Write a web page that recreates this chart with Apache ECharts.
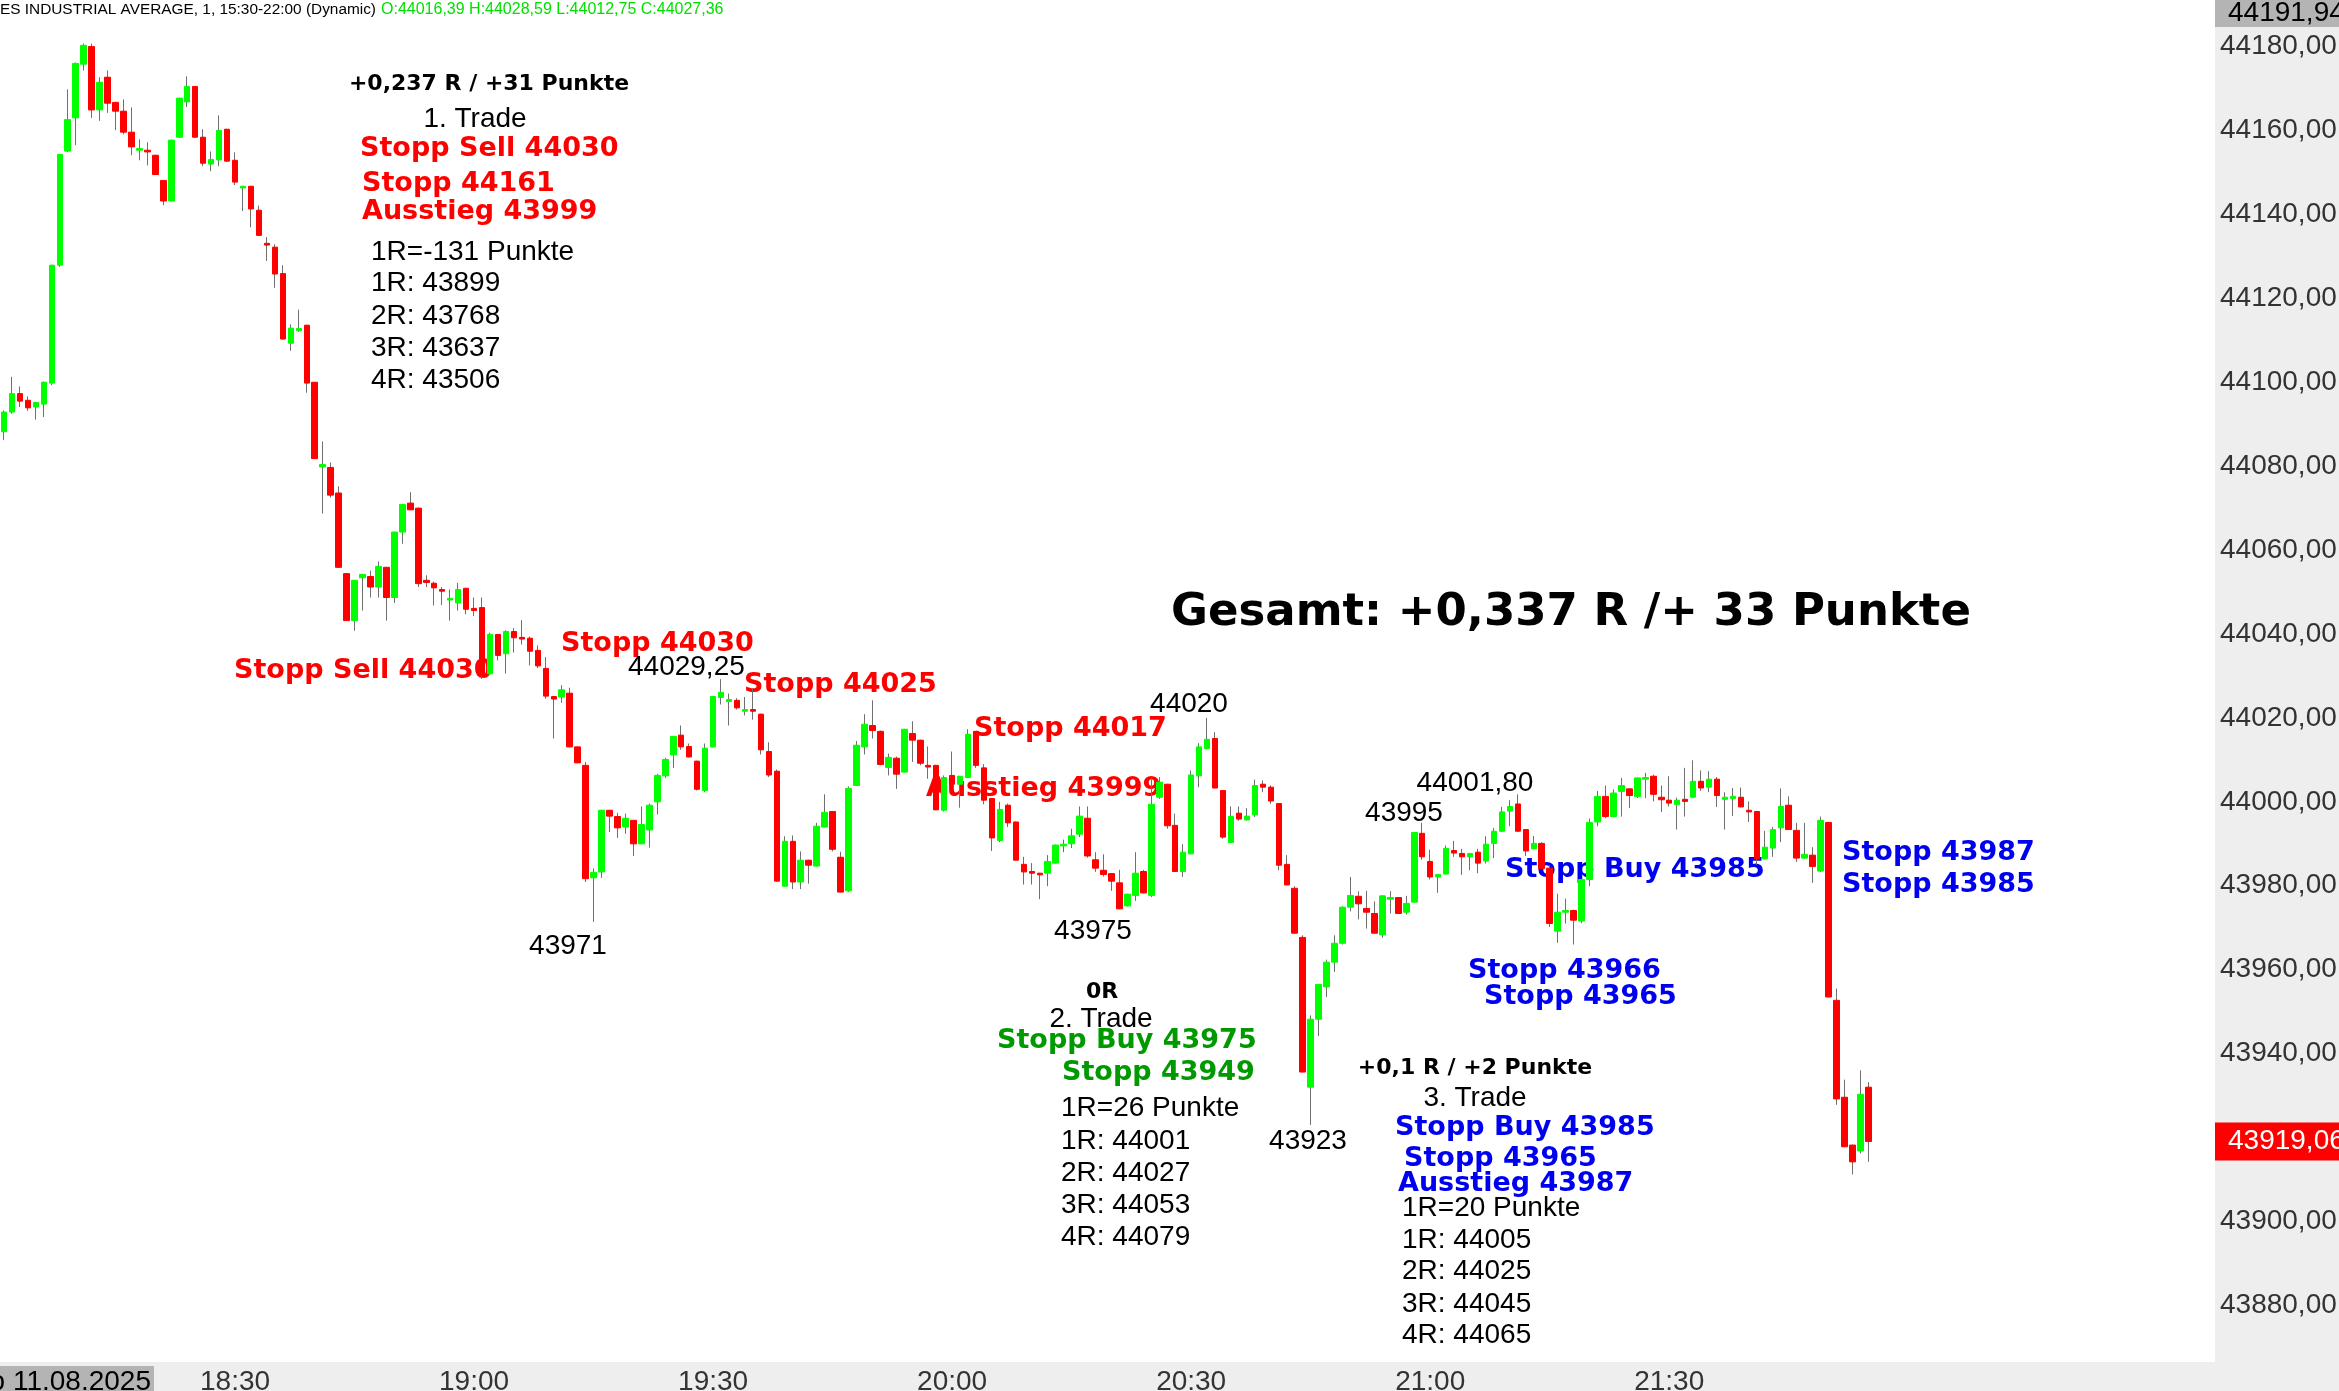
<!DOCTYPE html>
<html><head><meta charset="utf-8">
<script src="https://cdn.jsdelivr.net/npm/echarts@6/dist/echarts.min.js"></script>
<style>html,body{margin:0;padding:0;background:#fff;overflow:hidden}#c{width:2339px;height:1391px}</style>
</head><body><div id="c"></div>
<script>
// ---- data (1-minute candles, 18:01 .. 21:55) ----
const opens = [44088.2,44092.9,44097.3,44095.7,44094.1,44094.8,44099.8,44127.9,44155.1,44163.0,
44175.8,44180.0,44164.9,44172.7,44166.7,44164.6,44159.6,44155.3,44155.3,44154.1,
44148.1,44143.2,44158.4,44166.8,44170.5,44158.4,44152.0,44153.0,44160.3,44152.9,
44146.3,44146.7,44141.0,44133.1,44132.2,44125.9,44109.3,44112.3,44113.6,44100.0,
44079.8,44079.7,44073.6,44054.4,44043.2,44053.4,44053.7,44051.2,44055.9,44048.7,
44064.3,44071.2,44070.0,44052.8,44052.1,44050.6,44048.1,44047.4,44050.9,44046.1,
44046.3,44030.5,44039.9,44035.3,44040.6,44039.2,44039.0,44036.1,44031.8,44025.1,
44025.0,44025.9,44013.1,44008.7,43981.9,43983.3,43998.0,43996.5,43994.0,43995.6,
43990.0,43993.3,44000.0,44006.2,44011.2,44015.9,44013.2,44009.7,44002.7,44013.1,
44024.9,44023.9,44024.2,44021.6,44022.0,44020.9,44012.0,44007.3,43979.9,43990.6,
43980.9,43986.1,43984.7,43994.0,43997.7,43986.8,43978.8,44003.9,44013.1,44018.2,
44016.8,44008.2,44010.4,44007.1,44016.3,44014.7,44008.7,44008.7,43998.0,44006.3,
44004.2,44005.8,44016.8,44008.1,44000.8,43990.8,43999.2,43995.2,43985.1,43983.4,
43983.0,43983.0,43985.4,43989.5,43990.0,43992.3,43996.1,43986.2,43983.7,43982.9,
43980.7,43975.2,43977.7,43983.4,43977.7,44001.1,44004.2,43994.4,43983.4,43987.6,
44006.2,44012.7,44015.1,44002.7,43990.3,43997.3,43995.7,43996.9,44004.2,44003.5,
43999.6,43985.1,43979.4,43967.7,43932.0,43948.2,43955.9,43961.8,43966.3,43974.9,
43977.5,43974.6,43973.4,43968.3,43976.8,43977.2,43973.7,43976.1,43992.5,43985.8,
43982.1,43982.8,43988.4,43987.7,43986.9,43988.0,43985.9,43990.1,43993.0,43997.8,
43999.5,43993.4,43988.8,43990.1,43984.2,43969.2,43973.7,43974.1,43971.6,43981.5,
43995.2,44001.3,43996.5,44002.5,44003.1,44001.3,44005.4,44006.1,44001.1,44000.4,
43999.4,44000.6,44001.1,44004.9,44003.5,44005.4,44000.6,44000.8,44001.1,43998.0,
43997.7,43986.4,43989.0,43993.8,43999.2,43993.2,43986.6,43987.3,43983.5,43995.1,
43952.7,43929.6,43918.2,43916.8,43932.0];
const highs = [44093.3,44101.3,44099.0,44096.6,44095.3,44100.2,44128.0,44154.4,44169.8,44176.2,
44180.7,44180.7,44172.7,44174.3,44166.8,44167.4,44165.5,44157.9,44157.2,44154.2,
44148.2,44157.8,44167.8,44172.9,44170.6,44160.3,44155.0,44163.6,44160.4,44154.8,
44146.8,44146.8,44142.1,44134.6,44132.9,44127.9,44113.8,44117.3,44113.7,44100.1,
44085.9,44080.9,44075.2,44054.5,44052.9,44054.3,44055.1,44057.3,44056.0,44064.4,
44071.0,44073.8,44070.1,44054.0,44052.5,44051.2,44050.6,44052.2,44051.0,44048.7,
44048.7,44040.3,44040.0,44040.9,44041.4,44043.3,44039.4,44037.3,44034.5,44025.2,
44027.8,44027.2,44013.2,44009.5,43984.1,43998.1,43998.1,43997.4,43997.2,43995.7,
43998.9,43999.6,44006.7,44010.5,44015.7,44018.2,44013.9,44009.8,44013.9,44025.2,
44029.25,44025.8,44024.7,44025.0,44027.0,44021.0,44014.2,44007.7,43991.8,43992.0,
43988.2,43986.2,43995.0,44001.8,43997.8,43988.1,44003.7,44014.5,44020.9,44024.2,
44017.0,44011.5,44010.8,44017.4,44019.2,44014.8,44013.2,44008.8,44006.3,44012.0,
44006.2,44017.3,44016.9,44009.0,44000.9,44000.0,43999.6,43995.3,43986.9,43985.4,
43983.1,43987.3,43989.8,43991.0,43993.6,43998.9,43998.9,43988.0,43987.5,43983.0,
43983.8,43978.1,43988.0,43983.8,44005.8,44005.9,44004.3,43997.2,43989.9,44007.5,
44014.0,44020.0,44016.6,44002.8,43998.9,43998.9,43998.5,44005.3,44005.1,44003.9,
43999.7,43987.3,43979.9,43968.2,43949.1,43956.6,43962.4,43968.2,43975.1,43982.1,
43978.7,43978.8,43976.3,43977.7,43978.7,43977.3,43977.6,43992.8,43995.0,43988.6,
43982.8,43989.6,43990.7,43988.8,43987.8,43988.8,43991.8,43993.8,43998.8,44000.4,
44001.8,43993.5,43991.9,43990.4,43984.9,43978.1,43976.9,43974.3,43981.6,43996.0,
44002.6,44003.9,44003.0,44005.7,44003.2,44005.8,44006.9,44006.5,44003.9,44006.1,
44001.0,44008.1,44009.9,44007.5,44007.3,44005.9,44002.3,44003.3,44003.4,44000.1,
43997.8,43993.1,43994.0,44003.2,44001.3,43995.0,43995.0,43989.2,43996.5,43995.2,
43955.5,43933.8,43918.3,43936.0,43933.2];
const lows = [44086.2,44092.5,44094.1,44093.2,44091.1,44091.7,44099.3,44127.5,44154.8,44156.5,
44174.3,44163.0,44162.3,44164.2,44160.1,44159.1,44154.1,44152.9,44151.7,44149.4,
44142.2,44143.1,44158.3,44165.6,44158.3,44151.5,44150.3,44151.5,44152.5,44147.0,
44140.8,44136.9,44134.9,44128.9,44122.5,44110.2,44107.5,44112.0,44097.5,44081.7,
44068.7,44072.5,44055.8,44043.1,44040.8,44045.6,44048.7,44048.7,44043.2,44047.4,
44061.5,44069.5,44051.2,44051.2,44046.8,44046.9,44043.2,44045.6,44044.7,44044.3,
44029.3,44030.4,44033.7,44030.6,44035.6,44037.5,44032.5,44031.9,44024.6,44015.1,
44023.6,44013.0,44009.2,43980.9,43971.4,43981.9,43992.8,43991.4,43992.4,43987.1,
43989.9,43989.1,43997.0,44005.7,44008.1,44012.4,44010.6,44002.7,44002.3,44013.0,
44023.2,44018.2,44022.0,44020.6,44019.6,44011.3,44005.9,43981.0,43979.8,43979.2,
43979.2,43980.5,43984.6,43993.9,43988.2,43978.4,43978.5,44003.8,44011.3,44015.1,
44008.7,44006.3,44003.1,44007.0,44009.5,44008.7,44005.5,43998.0,43997.7,44004.1,
43998.6,44005.7,44008.1,43999.4,43988.3,43990.4,43994.0,43986.0,43980.3,43980.3,
43976.8,43979.9,43985.3,43988.0,43989.0,43991.6,43986.7,43983.3,43982.2,43978.8,
43974.4,43975.1,43976.4,43978.2,43977.3,44000.7,43993.6,43983.3,43982.1,43987.5,
44003.5,44012.5,44003.2,43991.2,43990.2,43995.5,43995.5,43996.4,44002.3,43999.5,
43983.7,43980.1,43968.6,43935.5,43923.0,43944.2,43953.5,43959.5,43966.0,43973.9,
43972.0,43969.8,43968.6,43967.6,43973.4,43973.3,43973.2,43976.0,43986.2,43981.5,
43978.3,43982.7,43986.9,43982.6,43983.7,43983.0,43985.3,43986.6,43992.9,43994.2,
43992.9,43987.1,43988.7,43984.0,43970.2,43966.4,43971.0,43966.0,43971.1,43979.9,
43994.2,43996.1,43996.4,43996.5,43998.5,44000.9,44000.9,44000.1,43997.6,43998.9,
43993.4,43996.5,44000.9,44002.6,44002.3,43998.8,43993.4,43996.6,43998.7,43995.2,
43985.0,43986.3,43986.9,43990.4,43993.3,43985.7,43986.4,43980.7,43983.3,43953.4,
43927.8,43917.7,43911.2,43916.2,43914.2];
const closes = [44092.9,44097.3,44095.5,44093.9,44095.2,44100.0,44127.9,44154.3,44162.6,44176.0,
44180.3,44164.9,44171.5,44166.5,44164.6,44159.6,44156.1,44155.7,44154.9,44149.5,
44143.2,44157.7,44167.7,44170.5,44158.4,44152.2,44153.1,44160.0,44152.7,44147.7,
44146.7,44141.3,44135.0,44132.7,44125.8,44110.3,44112.9,44112.8,44099.8,44081.8,
44080.4,44073.1,44055.9,44043.2,44052.8,44054.2,44051.2,44056.1,44048.7,44064.3,
44070.9,44069.6,44052.0,44052.3,44051.0,44050.2,44048.5,44050.6,44045.9,44045.6,
44030.2,44039.9,44034.9,44040.6,44039.1,44038.8,44035.9,44032.4,44025.2,44024.5,
44026.7,44013.1,44009.3,43981.7,43983.2,43998.0,43996.6,43993.8,43996.1,43990.0,
43994.6,43999.2,44006.3,44010.1,44015.6,44013.1,44010.7,44003.0,44012.8,44025.1,
44026.1,44024.4,44022.4,44022.0,44021.6,44012.4,44006.4,43981.1,43990.6,43980.9,
43986.1,43984.9,43994.2,43997.5,43988.7,43978.5,44003.2,44013.5,44018.5,44017.0,
44008.9,44010.6,44006.6,44017.3,44014.7,44009.2,44008.3,43998.1,44005.8,44004.2,
44006.1,44016.1,44008.7,44000.4,43991.4,43998.2,43995.0,43986.1,43983.3,43983.0,
43982.6,43985.8,43989.7,43989.9,43991.9,43996.6,43987.1,43984.2,43982.7,43981.1,
43974.5,43978.0,43983.0,43978.3,43999.4,44004.7,43994.3,43983.4,43988.0,44006.4,
44013.1,44014.9,44003.3,43991.6,43996.5,43995.9,43996.6,44003.9,44003.5,44000.2,
43984.9,43980.2,43968.7,43935.6,43948.2,43956.5,43961.8,43966.3,43974.9,43977.7,
43975.7,43973.7,43968.7,43977.6,43977.2,43973.4,43975.8,43992.7,43986.9,43982.1,
43982.7,43988.9,43987.8,43986.9,43987.7,43985.4,43989.9,43993.0,43997.6,43998.9,
43993.0,43988.3,43990.1,43984.1,43971.0,43973.7,43974.1,43971.8,43981.5,43995.1,
44001.3,43996.5,44002.1,44003.9,44001.5,44005.7,44005.8,44001.8,44000.5,43999.7,
44000.4,44000.1,44004.9,44003.3,44005.4,44001.5,44001.1,44001.3,43998.8,43997.6,
43986.4,43989.2,43993.4,43998.9,43993.4,43986.6,43987.5,43984.6,43995.6,43953.5,
43929.2,43917.8,43914.2,43930.3,43919.06];

// ---- axis / label settings ----
const firstMinute = 18 * 60 + 1;   // 18:01
const slotCount = 278;             // visible minute slots
const categories = [];
for (let i = 0; i < slotCount; i++) {
  const t = firstMinute + i;
  categories.push(String(Math.floor(t / 60)).padStart(2, '0') + ':' + String(t % 60).padStart(2, '0'));
}
const yMin = 43860, yMax = 44191.1, yInterval = 20;
const lastPrice = 43919.06;
const topPriceLabel = '44191,94';
const dateLabel = 'Mo 11.08.2025';
const headerName = 'DOW JONES INDUSTRIAL AVERAGE, 1, 15:30-22:00 (Dynamic)';
const headerOHLC = 'O:44016,39 H:44028,59 L:44012,75 C:44027,36';

const annotations = [
  ['+0,237 R / +31 Punkte', 489, 84, 'bold', 'center'],
  ['1. Trade', 475, 119, 'reg', 'center'],
  ['Stopp Sell 44030', 360, 149, 'red', 'left'],
  ['Stopp 44161', 362, 184, 'red', 'left'],
  ['Ausstieg 43999', 362, 212, 'red', 'left'],
  ['1R=-131 Punkte', 371, 252, 'reg', 'left'],
  ['1R: 43899', 371, 283, 'reg', 'left'],
  ['2R: 43768', 371, 316, 'reg', 'left'],
  ['3R: 43637', 371, 348, 'reg', 'left'],
  ['4R: 43506', 371, 380, 'reg', 'left'],
  ['Stopp Sell 44030', 234, 671, 'red', 'left'],
  ['Stopp 44030', 561, 644, 'red', 'left'],
  ['44029,25', 628, 667, 'reg', 'left'],
  ['Stopp 44025', 744, 685, 'red', 'left'],
  ['Stopp 44017', 974, 729, 'red', 'left'],
  ['Ausstieg 43999', 926, 789, 'red', 'left'],
  ['43971', 568, 946, 'reg', 'center'],
  ['43975', 1093, 931, 'reg', 'center'],
  ['44020', 1189, 704, 'reg', 'center'],
  ['43923', 1308, 1141, 'reg', 'center'],
  ['43995', 1404, 813, 'reg', 'center'],
  ['44001,80', 1475, 783, 'reg', 'center'],
  ['0R', 1102, 992, 'bold', 'center'],
  ['2. Trade', 1101, 1019, 'reg', 'center'],
  ['Stopp Buy 43975', 997, 1041, 'green', 'left'],
  ['Stopp 43949', 1062, 1073, 'green', 'left'],
  ['1R=26 Punkte', 1061, 1108, 'reg', 'left'],
  ['1R: 44001', 1061, 1141, 'reg', 'left'],
  ['2R: 44027', 1061, 1173, 'reg', 'left'],
  ['3R: 44053', 1061, 1205, 'reg', 'left'],
  ['4R: 44079', 1061, 1237, 'reg', 'left'],
  ['Stopp Buy 43985', 1505, 870, 'blue', 'left'],
  ['Stopp 43966', 1468, 971, 'blue', 'left'],
  ['Stopp 43965', 1484, 997, 'blue', 'left'],
  ['Stopp 43987', 1842, 853, 'blue', 'left'],
  ['Stopp 43985', 1842, 885, 'blue', 'left'],
  ['+0,1 R / +2 Punkte', 1475, 1068, 'bold', 'center'],
  ['3. Trade', 1475, 1098, 'reg', 'center'],
  ['Stopp Buy 43985', 1395, 1128, 'blue', 'left'],
  ['Stopp 43965', 1404, 1159, 'blue', 'left'],
  ['Ausstieg 43987', 1398, 1184, 'blue', 'left'],
  ['1R=20 Punkte', 1402, 1208, 'reg', 'left'],
  ['1R: 44005', 1402, 1240, 'reg', 'left'],
  ['2R: 44025', 1402, 1271, 'reg', 'left'],
  ['3R: 44045', 1402, 1304, 'reg', 'left'],
  ['4R: 44065', 1402, 1335, 'reg', 'left'],
  ['Gesamt: +0,337 R /+ 33 Punkte', 1571, 613, 'big', 'center']
];

// ---- styles ----
const REG = '28px "Liberation Sans", Arial, sans-serif';
const HEAVY = 'bold 27px "DejaVu Sans", sans-serif';
const textStyles = {
  reg: { font: REG, fill: '#000000' },
  bold: { font: 'bold 22px "DejaVu Sans", sans-serif', fill: '#000000' },
  big: { font: 'bold 45px "DejaVu Sans", sans-serif', fill: '#000000' },
  red: { font: HEAVY, fill: '#ff0000' },
  green: { font: HEAVY, fill: '#009a00' },
  blue: { font: HEAVY, fill: '#0000f0' }
};

const plotW = 2215, pxPerPoint = 4.196;
const gridH = (yMax - yMin) * pxPerPoint;

const wickData = opens.map((o, i) => [o, closes[i], lows[i], highs[i]]);
const bodyData = opens.map((o, i) => [o, closes[i], Math.min(o, closes[i]), Math.max(o, closes[i])]);

const chart = echarts.init(document.getElementById('c'), null, { renderer: 'canvas' });

const graphics = [
  { type: 'rect', z: -1, silent: true, shape: { x: plotW, y: 0, width: 2339 - plotW, height: 1391 }, style: { fill: '#eeeeee' } },
  { type: 'rect', z: -1, silent: true, shape: { x: 0, y: 1362, width: plotW, height: 29 }, style: { fill: '#eeeeee' } },
  { type: 'rect', z: 20, silent: true, shape: { x: 0, y: 1366, width: 154, height: 25 }, style: { fill: '#b4b4b4' } },
  { type: 'text', z: 21, silent: true, x: 151, y: 1368, style: { text: dateLabel, font: REG, fill: '#000', textAlign: 'right', textVerticalAlign: 'top', verticalAlign: 'top' } },
  { type: 'rect', z: 20, silent: true, shape: { x: plotW, y: 0, width: 2339 - plotW, height: 27 }, style: { fill: '#b4b4b4' } },
  { type: 'text', z: 21, silent: true, x: 2228, y: 13, style: { text: topPriceLabel, font: REG, fill: '#000', textAlign: 'left', textVerticalAlign: 'middle', verticalAlign: 'middle' } },
  { type: 'text', z: 21, silent: true, x: 376, y: 10, style: { text: headerName, font: '15.4px "Liberation Sans", Arial, sans-serif', fill: '#000', textAlign: 'right', textVerticalAlign: 'middle', verticalAlign: 'middle' } },
  { type: 'text', z: 21, silent: true, x: 381, y: 10, style: { text: headerOHLC, font: '16px "Liberation Sans", Arial, sans-serif', fill: '#00e000', textAlign: 'left', textVerticalAlign: 'middle', verticalAlign: 'middle' } }
];
annotations.forEach(a => {
  const st = textStyles[a[3]];
  graphics.push({ type: 'text', z: 1, silent: true, x: a[1], y: a[2],
    style: { text: a[0], font: st.font, fill: st.fill, textAlign: a[4], textVerticalAlign: 'middle', verticalAlign: 'middle' } });
});

const option = {
  animation: false,
  backgroundColor: '#ffffff',
  grid: { left: 0, top: 0, width: plotW, height: gridH, containLabel: false, outerBoundsMode: 'none' },
  xAxis: {
    type: 'category', data: categories, boundaryGap: true, z: 10,
    axisLine: { show: false }, axisTick: { show: false }, splitLine: { show: false },
    axisLabel: {
      interval: (i, v) => i < opens.length && (v.endsWith(':00') || v.endsWith(':30')),
      margin: -21, color: '#333333', fontSize: 28, fontFamily: '"Liberation Sans", Arial, sans-serif',
      verticalAlign: 'top'
    }
  },
  yAxis: {
    type: 'value', position: 'right', min: yMin, max: yMax, interval: yInterval, z: 10,
    axisLine: { show: false }, axisTick: { show: false }, splitLine: { show: false },
    axisLabel: {
      margin: 5, color: '#333333', fontSize: 28, fontFamily: '"Liberation Sans", Arial, sans-serif',
      showMinLabel: false, showMaxLabel: false,
      formatter: v => v.toFixed(2).replace('.', ',')
    }
  },
  series: [
    { type: 'candlestick', name: 'wick', data: wickData, barWidth: 1, z: 2, silent: true,
      itemStyle: { color: '#707070', color0: '#707070', borderColor: '#707070', borderColor0: '#707070', borderWidth: 1 } },
    { type: 'candlestick', name: 'body', data: bodyData, barWidth: 6, z: 3, silent: true,
      itemStyle: { color: '#00ff00', color0: '#ff0000', borderColor: '#00ff00', borderColor0: '#ff0000', borderWidth: 1 } }
  ],
  graphic: graphics
};
chart.setOption(option);

// current price label positioned through the y scale
const py = chart.convertToPixel({ yAxisIndex: 0 }, lastPrice);
graphics.push({ type: 'rect', z: 20, silent: true, shape: { x: plotW, y: py - 19, width: 2339 - plotW, height: 38 }, style: { fill: '#ff0000' } });
graphics.push({ type: 'text', z: 21, silent: true, x: 2228, y: py, style: { text: lastPrice.toFixed(2).replace('.', ','), font: REG, fill: '#ffffff', textAlign: 'left', textVerticalAlign: 'middle', verticalAlign: 'middle' } });
chart.setOption({ graphic: graphics }, { replaceMerge: ['graphic'] });
</script>
</body></html>
